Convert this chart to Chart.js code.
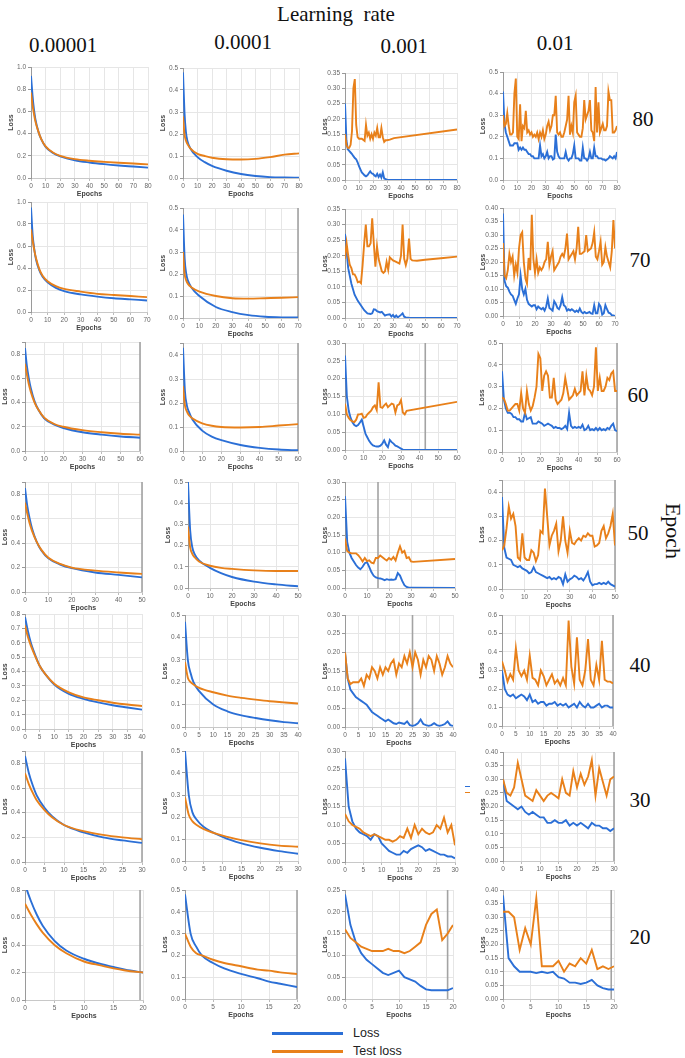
<!DOCTYPE html>
<html><head><meta charset="utf-8">
<script src="https://cdn.jsdelivr.net/npm/chart.js@4/dist/chart.umd.min.js"></script>
<style>
html,body{margin:0;padding:0;background:#fff;}
body{width:685px;height:1058px;position:relative;overflow:hidden;font-family:'Liberation Serif','Times New Roman',serif;}
.lbl{position:absolute;white-space:pre;color:#111;line-height:1;transform:translate(-50%,-50%);}
canvas{position:absolute;}
.lg{position:absolute;height:3px;}
.lgt{position:absolute;font-family:'Liberation Sans',Arial,sans-serif;font-size:12.5px;color:#222;transform:translateY(-50%);line-height:1;}
</style></head><body>
<div class="lbl" style="left:336px;top:14px;font-size:21px;">Learning  rate</div>
<div id="hdrs"></div>
<div id="charts"></div>
<div class="lbl" style="left:673px;top:531px;font-size:22px;transform:translate(-50%,-50%) rotate(90deg);">Epoch</div>
<div class="lg" style="left:272px;top:1032px;width:71px;background:#2b6fd6;"></div>
<div class="lgt" style="left:353px;top:1033px;">Loss</div>
<div class="lg" style="left:272px;top:1050px;width:71px;background:#e8801a;"></div>
<div class="lgt" style="left:353px;top:1051px;">Test loss</div>
<div style="position:absolute;left:465px;top:786px;width:5px;height:1px;background:#2b6fd6;"></div>
<div style="position:absolute;left:465px;top:792px;width:5px;height:1px;background:#e8801a;"></div>
<script>
// ---------------- DATA ----------------
const ROW_EPOCHS = [80, 70, 60, 50, 40, 30, 20];
const LR_LABELS = ['0.00001', '0.0001', '0.001', '0.01'];
const X_STEP = [10, 10, 10, 10, 5, 5, 5];
const Y_MAX = [[1.0,0.5,0.35,0.5],[1.0,0.5,0.35,0.4],[0.9,0.45,0.3,0.5],[0.9,0.5,0.3,0.45],[0.8,0.5,0.3,0.6],[0.9,0.5,0.3,0.4],[0.8,0.5,0.25,0.4]];
const Y_STEP = [[0.2,0.1,0.05,0.1],[0.2,0.1,0.05,0.05],[0.2,0.1,0.05,0.1],[0.2,0.1,0.05,0.1],[0.1,0.1,0.05,0.1],[0.2,0.1,0.05,0.05],[0.2,0.1,0.05,0.05]];
const CURSOR = [[null,null,null,null],[null,70,null,null],[60,60,43,60],[50,null,15,50],[null,null,25,40],[30,null,null,30],[19.5,20,19,19.5]];

// 80 epochs
const e80_lr5_loss = [[0,.92],[1,.75],[2,.62],[3,.53],[5,.42],[7,.35],[10,.28],[15,.225],[20,.195],[30,.16],[40,.14],[50,.125],[60,.113],[70,.103],[80,.093]];
const e80_lr5_test = [[0,.77],[1,.66],[2,.58],[3,.51],[5,.42],[7,.35],[10,.285],[15,.23],[20,.2],[30,.17],[40,.155],[50,.145],[60,.137],[70,.13],[80,.123]];
const e80_lr4_loss = [[0,.48],[1,.3],[2,.21],[3,.17],[5,.135],[10,.095],[15,.072],[20,.055],[30,.033],[40,.018],[50,.009],[60,.004],[70,.002],[80,.001]];
const e80_lr4_test = [[0,.28],[1,.2],[2,.17],[3,.155],[5,.135],[10,.11],[15,.1],[20,.092],[30,.085],[40,.084],[50,.087],[60,.095],[70,.106],[80,.112]];
const e80_lr3_loss = [[0,.25],[1,.13],[2,.1],[3,.095],[4,.09],[5,.085],[6,.078],[7,.072],[8,.068],[9,.058],[10,.045],[11,.035],[12,.025],[13,.02],[14,.015],[15,.012],[16,.015],[17,.022],[18,.028],[19,.022],[20,.02],[21,.015],[22,.012],[23,.02],[24,.01],[25,.018],[26,.008],[27,.025],[28,.005],[29,.003],[30,.001],[80,0]];
const e80_lr3_test = [[0,.15],[1,.115],[2,.105],[3,.105],[4,.115],[5,.16],[6,.3],[7,.33],[8,.18],[9,.14],[10,.135],[12,.135],[14,.128],[15,.18],[16,.145],[17,.155],[18,.135],[19,.15],[20,.135],[21,.155],[22,.145],[23,.17],[24,.14],[25,.14],[26,.17],[27,.14],[28,.125],[29,.13],[30,.13],[32,.132],[35,.137],[80,.165]];
const e80_lr2_loss = [.41,.26,.22,.20,.18,.16,.16,.16,.17,.17, .17,.14,.15,.14,.15,.14,.14,.13,.12,.12, .11,.11,.10,.10,.10,.10,.16,.11,.12,.10, .11,.13,.10,.11,.11,.095,.10,.21,.13,.11, .10,.10,.10,.10,.13,.10,.09,.10,.10,.12, .16,.10,.10,.10,.09,.09,.15,.10,.10,.09, .10,.13,.10,.10,.15,.11,.11,.10,.10,.10, .095,.095,.09,.095,.10,.11,.105,.10,.11,.10,.13];
const e80_lr2_test = [.30,.25,.26,.31,.25,.21,.21,.22,.40,.47, .20,.19,.35,.18,.25,.24,.32,.22,.23,.21, .22,.20,.21,.20,.22,.19,.22,.20,.23,.19, .21,.25,.27,.23,.25,.30,.30,.39,.22,.21, .22,.20,.20,.22,.25,.28,.39,.21,.25,.22, .36,.39,.22,.21,.20,.20,.24,.37,.28,.30, .32,.37,.23,.22,.18,.43,.22,.36,.22,.24, .26,.23,.23,.25,.41,.37,.37,.22,.22,.23,.25];

// 70 epochs
const e70_lr5_loss = [[0,.95],[1,.7],[2,.57],[3,.48],[5,.38],[7,.32],[10,.27],[15,.22],[20,.19],[30,.16],[40,.14],[50,.125],[60,.115],[70,.105]];
const e70_lr5_test = [[0,.75],[1,.65],[2,.56],[3,.49],[5,.39],[7,.33],[10,.28],[15,.235],[20,.21],[30,.185],[40,.165],[50,.155],[60,.145],[70,.135]];
const e70_lr4_loss = [[0,.47],[1,.27],[2,.2],[3,.17],[5,.14],[10,.1],[20,.05],[30,.027],[40,.013],[50,.006],[60,.003],[70,.002]];
const e70_lr4_test = [[0,.3],[1,.2],[2,.17],[3,.155],[5,.14],[10,.12],[20,.1],[30,.09],[40,.088],[50,.09],[60,.092],[70,.095]];
const e70_lr3_loss = [[0,.27],[2,.16],[4,.11],[6,.075],[8,.055],[10,.04],[12,.025],[14,.015],[16,.013],[17,.015],[18,.028],[19,.027],[20,.022],[22,.018],[23,.02],[25,.008],[26,.01],[28,.012],[29,.005],[30,.01],[31,.002],[32,.008],[33,.002],[35,.01],[36,.015],[37,.004],[38,.002],[40,.001],[70,0]];
const e70_lr3_test = [[0,.19],[1,.24],[2,.2],[3,.17],[4,.16],[5,.14],[6,.14],[7,.13],[8,.115],[9,.117],[10,.112],[11,.17],[12,.24],[13,.3],[14,.23],[15,.23],[16,.24],[17,.32],[18,.24],[19,.165],[20,.23],[21,.19],[22,.17],[23,.15],[24,.145],[25,.15],[26,.18],[27,.155],[28,.195],[29,.19],[30,.185],[32,.18],[34,.175],[35,.2],[36,.3],[37,.19],[38,.17],[39,.19],[40,.255],[41,.19],[42,.185],[45,.184],[50,.187],[60,.192],[70,.197]];
const e70_lr2_loss = [.38,.13,.11,.105,.09,.08,.075,.06,.045,.065, .08,.15,.10,.08,.10,.06,.045,.04,.035,.04, .04,.025,.035,.03,.025,.03,.02,.035,.065,.03, .025,.02,.055,.045,.03,.025,.04,.07,.04,.035, .02,.025,.02,.025,.02,.015,.02,.015,.028,.015, .01,.015,.01,.012,.015,.01,.008,.04,.01,.01, .045,.035,.005,.01,.04,.025,.012,.01,.003,.002,0];
const e70_lr2_test = [.27,.15,.14,.17,.23,.20,.22,.15,.19,.16, .25,.30,.31,.20,.14,.12,.215,.17,.375,.21, .16,.21,.16,.18,.17,.18,.20,.21,.275,.19, .22,.24,.17,.18,.19,.20,.22,.23,.22,.25, .305,.21,.22,.23,.24,.21,.25,.33,.23,.23, .235,.24,.30,.24,.245,.25,.27,.31,.22,.21, .24,.275,.19,.20,.255,.22,.20,.18,.24,.355,.25];

// 60 epochs
const e60_lr5_loss = [[0,.85],[1,.7],[2,.6],[3,.52],[5,.41],[7,.34],[10,.27],[15,.22],[20,.19],[30,.155],[40,.135],[50,.12],[60,.11]];
const e60_lr5_test = [[0,.72],[1,.63],[2,.55],[3,.49],[5,.4],[7,.34],[10,.275],[15,.225],[20,.2],[30,.172],[40,.155],[50,.143],[60,.135]];
const e60_lr4_loss = [[0,.43],[1,.25],[2,.19],[3,.165],[5,.13],[10,.085],[15,.06],[20,.045],[30,.025],[40,.013],[50,.006],[60,.003]];
const e60_lr4_test = [[0,.27],[1,.19],[2,.165],[3,.15],[5,.135],[10,.115],[15,.105],[20,.1],[30,.098],[40,.1],[50,.106],[60,.112]];
const e60_lr3_loss = [[0,.265],[1,.15],[2,.11],[3,.09],[4,.078],[5,.07],[6,.067],[7,.07],[8,.077],[9,.085],[10,.065],[11,.045],[12,.035],[13,.025],[14,.018],[15,.013],[16,.011],[17,.01],[18,.01],[19,.012],[20,.018],[21,.027],[22,.015],[23,.008],[24,.028],[25,.022],[26,.018],[27,.012],[28,.01],[29,.007],[30,.004],[31,.001],[60,0]];
const e60_lr3_test = [[0,.13],[1,.1],[2,.09],[3,.083],[4,.08],[5,.078],[6,.085],[7,.1],[8,.1],[9,.102],[10,.09],[11,.092],[12,.1],[13,.105],[14,.11],[15,.12],[16,.125],[17,.112],[18,.19],[19,.12],[20,.118],[21,.125],[22,.13],[23,.12],[24,.125],[25,.13],[26,.128],[27,.105],[28,.125],[29,.128],[30,.14],[31,.105],[32,.1],[33,.11],[60,.135]];
const e60_lr2_loss = [.37,.24,.20,.18,.18,.175,.16,.16,.15,.15, .14,.14,.18,.15,.155,.16,.13,.13,.13,.14, .135,.13,.12,.125,.13,.125,.12,.11,.115,.11, .11,.105,.11,.12,.105,.18,.12,.11,.115,.11, .115,.11,.125,.10,.105,.12,.10,.105,.10,.11, .10,.11,.10,.105,.10,.11,.105,.12,.13,.10,.095];
const e60_lr2_test = [.25,.245,.22,.19,.19,.20,.21,.22,.22,.19, .27,.20,.18,.28,.22,.19,.21,.25,.30,.45, .43,.28,.35,.37,.35,.25,.25,.34,.24,.22, .23,.24,.27,.34,.29,.24,.25,.26,.29,.26, .27,.28,.37,.26,.35,.29,.28,.26,.30,.48, .28,.34,.28,.28,.30,.34,.33,.36,.37,.28,.28];

// 50 epochs
const e50_lr5_loss = [[0,.85],[1,.7],[2,.6],[3,.52],[5,.41],[7,.34],[10,.275],[15,.225],[20,.195],[30,.16],[40,.14],[50,.12]];
const e50_lr5_test = [[0,.73],[1,.64],[2,.56],[3,.5],[5,.41],[7,.345],[10,.28],[15,.23],[20,.2],[30,.175],[40,.16],[50,.148]];
const e50_lr4_loss = [[0,.5],[1,.27],[2,.19],[3,.16],[5,.13],[10,.095],[15,.07],[20,.052],[30,.03],[40,.017],[50,.008]];
const e50_lr4_test = [[0,.29],[1,.19],[2,.16],[3,.145],[5,.125],[10,.105],[15,.095],[20,.09],[30,.083],[40,.08],[50,.08]];
const e50_lr3_loss = [[0,.26],[1,.13],[2,.1],[3,.085],[4,.075],[5,.065],[6,.058],[7,.053],[8,.06],[9,.07],[10,.073],[11,.06],[12,.045],[13,.035],[14,.03],[15,.028],[16,.027],[17,.025],[18,.022],[19,.025],[20,.023],[21,.024],[22,.023],[23,.025],[24,.042],[25,.035],[26,.02],[27,.008],[28,.003],[29,.001],[30,.001],[50,0]];
const e50_lr3_test = [[0,.14],[1,.105],[2,.1],[3,.098],[4,.098],[5,.098],[6,.093],[7,.085],[8,.075],[9,.085],[10,.076],[11,.078],[12,.072],[13,.07],[14,.085],[15,.085],[16,.092],[17,.087],[18,.082],[19,.078],[20,.085],[21,.08],[22,.088],[23,.078],[24,.1],[25,.118],[26,.1],[27,.105],[28,.085],[29,.087],[30,.075],[31,.074],[50,.082]];
const e50_lr2_loss = [.38,.17,.13,.125,.12,.10,.095,.09,.095,.085, .08,.075,.065,.07,.09,.07,.065,.06,.055,.05, .045,.05,.04,.045,.04,.05,.045,.02,.06,.03, .04,.045,.055,.05,.04,.045,.035,.05,.07,.03, .015,.02,.02,.025,.02,.025,.02,.03,.02,.015,.01];
const e50_lr2_test = [.16,.18,.25,.34,.29,.31,.26,.13,.12,.23, .13,.12,.12,.16,.15,.115,.14,.24,.23,.415, .30,.18,.22,.24,.27,.155,.20,.30,.20,.15, .24,.19,.185,.20,.21,.20,.22,.215,.23,.22, .22,.175,.18,.19,.24,.26,.21,.23,.26,.31,.18];

// 40 epochs
const e40_lr5_loss = [[0,.78],[1,.68],[2,.6],[3,.54],[5,.44],[7,.38],[10,.31],[15,.245],[20,.21],[25,.185],[30,.165],[35,.15],[40,.135]];
const e40_lr5_test = [[0,.72],[1,.64],[2,.58],[3,.53],[5,.44],[7,.38],[10,.315],[15,.255],[20,.22],[25,.2],[30,.183],[35,.17],[40,.16]];
const e40_lr4_loss = [[0,.47],[1,.3],[2,.24],[3,.2],[5,.16],[10,.1],[15,.07],[20,.052],[25,.04],[30,.03],[35,.022],[40,.017]];
const e40_lr4_test = [[0,.29],[1,.22],[2,.2],[3,.19],[5,.175],[10,.155],[15,.14],[20,.13],[25,.122],[30,.115],[35,.11],[40,.105]];
const e40_lr3_loss = [.20,.13,.10,.09,.08,.075,.07,.065,.06,.05, .04,.035,.03,.025,.02,.015,.02,.015,.01,.008, .012,.01,.008,.015,.005,.003,.005,.01,.02,.008, .005,.003,.005,.01,.005,.003,.005,.008,.015,.005,.003];
const e40_lr3_test = [.20,.13,.115,.12,.12,.12,.13,.11,.14,.13, .16,.15,.13,.16,.14,.16,.15,.17,.18,.14, .17,.16,.19,.17,.20,.16,.20,.18,.14,.18, .16,.19,.18,.15,.19,.17,.14,.16,.19,.17,.16];
const e40_lr2_loss = [.30,.20,.17,.16,.17,.15,.16,.17,.16,.14, .17,.13,.14,.12,.13,.13,.11,.12,.12,.13, .11,.12,.11,.12,.10,.11,.12,.10,.13,.11, .10,.12,.10,.10,.11,.12,.10,.11,.11,.10,.10];
const e40_lr2_test = [.35,.30,.24,.28,.25,.42,.30,.27,.30,.25, .38,.26,.25,.22,.30,.27,.22,.25,.28,.23, .25,.22,.26,.22,.57,.32,.23,.48,.25,.22, .30,.47,.25,.22,.33,.25,.46,.25,.24,.24,.23];

// 30 epochs
const e30_lr5_loss = [[0,.86],[1,.72],[2,.62],[3,.54],[5,.44],[7,.37],[10,.3],[15,.24],[20,.2],[25,.175],[30,.155]];
const e30_lr5_test = [[0,.72],[1,.63],[2,.56],[3,.5],[5,.42],[7,.36],[10,.3],[15,.25],[20,.22],[25,.2],[30,.185]];
const e30_lr4_loss = [[0,.5],[1,.3],[2,.22],[3,.19],[5,.155],[10,.11],[15,.08],[20,.06],[25,.045],[30,.033]];
const e30_lr4_test = [[0,.29],[1,.21],[2,.18],[3,.165],[5,.145],[10,.115],[15,.095],[20,.08],[25,.07],[30,.065]];
const e30_lr3_loss = [.28,.15,.11,.09,.08,.075,.07,.06,.075,.07, .05,.04,.03,.025,.02,.02,.03,.025,.035,.04, .045,.04,.03,.035,.03,.025,.02,.02,.015,.015,.01];
const e30_lr3_test = [.13,.11,.10,.095,.09,.08,.075,.07,.075,.07, .065,.06,.06,.055,.06,.07,.065,.09,.065,.10, .075,.09,.08,.075,.08,.10,.09,.12,.08,.10,.045];
const e30_lr2_loss = [.30,.22,.21,.20,.19,.20,.18,.17,.18,.17, .16,.16,.14,.14,.15,.14,.14,.15,.13,.14, .13,.14,.13,.12,.14,.13,.13,.12,.12,.11,.12];
const e30_lr2_test = [.30,.25,.24,.27,.36,.30,.24,.23,.22,.26, .24,.22,.24,.25,.24,.23,.30,.25,.24,.33, .27,.32,.28,.31,.37,.24,.34,.29,.24,.30,.31];

// 20 epochs
const e20_lr5_loss = [[0,.84],[1,.72],[2,.62],[3,.54],[5,.43],[7,.36],[10,.3],[13,.26],[15,.24],[17,.22],[20,.2]];
const e20_lr5_test = [[0,.7],[1,.62],[2,.55],[3,.49],[5,.4],[7,.34],[10,.28],[13,.25],[15,.23],[17,.215],[20,.2]];
const e20_lr4_loss = [[0,.48],[1,.3],[2,.24],[3,.2],[5,.165],[7,.14],[10,.115],[13,.095],[15,.08],[17,.07],[20,.055]];
const e20_lr4_test = [[0,.3],[1,.24],[2,.21],[3,.2],[5,.18],[7,.165],[10,.15],[13,.135],[15,.13],[17,.122],[20,.115]];
const e20_lr3_loss = [.24,.17,.13,.105,.09,.08,.07,.06,.055,.06, .065,.05,.045,.04,.03,.022,.02,.02,.02,.02,.025];
const e20_lr3_test = [.16,.14,.13,.12,.115,.11,.11,.11,.115,.11, .11,.105,.11,.12,.13,.17,.195,.205,.135,.15,.17];
const e20_lr2_loss = [.38,.15,.12,.10,.10,.10,.095,.10,.095,.10, .08,.075,.06,.06,.055,.06,.07,.05,.04,.035,.035];
const e20_lr2_test = [.32,.32,.30,.18,.26,.20,.37,.12,.12,.12, .14,.10,.13,.12,.15,.13,.18,.11,.12,.11,.12];

const SERIES = [
  [[e80_lr5_loss,e80_lr5_test],[e80_lr4_loss,e80_lr4_test],[e80_lr3_loss,e80_lr3_test],[e80_lr2_loss,e80_lr2_test]],
  [[e70_lr5_loss,e70_lr5_test],[e70_lr4_loss,e70_lr4_test],[e70_lr3_loss,e70_lr3_test],[e70_lr2_loss,e70_lr2_test]],
  [[e60_lr5_loss,e60_lr5_test],[e60_lr4_loss,e60_lr4_test],[e60_lr3_loss,e60_lr3_test],[e60_lr2_loss,e60_lr2_test]],
  [[e50_lr5_loss,e50_lr5_test],[e50_lr4_loss,e50_lr4_test],[e50_lr3_loss,e50_lr3_test],[e50_lr2_loss,e50_lr2_test]],
  [[e40_lr5_loss,e40_lr5_test],[e40_lr4_loss,e40_lr4_test],[e40_lr3_loss,e40_lr3_test],[e40_lr2_loss,e40_lr2_test]],
  [[e30_lr5_loss,e30_lr5_test],[e30_lr4_loss,e30_lr4_test],[e30_lr3_loss,e30_lr3_test],[e30_lr2_loss,e30_lr2_test]],
  [[e20_lr5_loss,e20_lr5_test],[e20_lr4_loss,e20_lr4_test],[e20_lr3_loss,e20_lr3_test],[e20_lr2_loss,e20_lr2_test]]
];

// ---------------- LAYOUT ----------------
const PLOT_X = [
  [[31,148],[183,299],[345,457],[503,617]],
  [[31,147],[183,298],[345,457],[503,615]],
  [[25,140],[183,298],[345,457],[502,617]],
  [[25,142],[188,298],[345,455],[502,615]],
  [[25,142],[185,298],[345,453],[502,613]],
  [[25,142],[185,298],[345,455],[503,614]],
  [[25,143],[185,297],[345,453],[503,614]]
];
const PLOT_Y = [
  [[67,178],[68,178],[73,180],[72,180]],
  [[202,312],[208,318],[209,318],[208,316]],
  [[342,451],[343,451],[343,450],[343,452]],
  [[482,592],[482,588],[482,588],[480,589]],
  [[614,729],[615,727],[615,727],[615,726]],
  [[751,862],[751,861],[751,862],[752,861]],
  [[890,1000],[890,999],[890,999],[890,999]]
];
const HDR_POS = [[63,45],[243,42],[404,46],[555,43]];
const ROWLBL_POS = [[643,119],[640,260],[638,395],[638,533],[640,665],[640,800],[640,937]];

const BLUE = '#2b6fd6', ORANGE = '#e8801a';
const PT = 6, XH = 20, YW = 24, PR = 8;

Chart.defaults.font.family = "Arial, 'Liberation Sans', sans-serif";

// headers
const hdrs = document.getElementById('hdrs');
LR_LABELS.forEach((t,i)=>{
  const d=document.createElement('div'); d.className='lbl'; d.style.fontSize='21px';
  d.style.left=HDR_POS[i][0]+'px'; d.style.top=HDR_POS[i][1]+'px'; d.textContent=t; hdrs.appendChild(d);
});
ROW_EPOCHS.forEach((t,i)=>{
  const d=document.createElement('div'); d.className='lbl'; d.style.fontSize='21px';
  d.style.left=ROWLBL_POS[i][0]+'px'; d.style.top=ROWLBL_POS[i][1]+'px'; d.textContent=String(t); hdrs.appendChild(d);
});

function toPts(arr){ return arr.map((v,i)=> Array.isArray(v) ? {x:v[0], y:v[1]} : {x:i, y:v}); }
function gridTicks(max, step){
  const t=[]; const n=Math.floor(max/step+1e-9);
  for(let k=0;k<=n;k++) t.push({value:+(k*step).toFixed(4)});
  if (Math.abs(n*step-max)>1e-9) t.push({value:max});
  return t;
}
function isMult(v, step){ const r=v/step; return Math.abs(r-Math.round(r))<1e-6; }

const cursorPlugin = {
  id:'cursorLine',
  beforeDatasetsDraw(chart, args, opts){
    if (opts.x==null) return;
    const {ctx, chartArea, scales} = chart;
    const px = scales.x.getPixelForValue(opts.x);
    ctx.save(); ctx.strokeStyle='#a3a3a3'; ctx.lineWidth=1.6;
    ctx.beginPath(); ctx.moveTo(px, chartArea.top); ctx.lineTo(px, chartArea.bottom); ctx.stroke(); ctx.restore();
  }
};

const host = document.getElementById('charts');
for (let r=0;r<7;r++){
  for (let c=0;c<4;c++){
    const [L,R]=PLOT_X[r][c], [T,B]=PLOT_Y[r][c];
    const cv=document.createElement('canvas');
    const w=(R-L)+YW+PR, h=(B-T)+PT+XH;
    cv.width=w; cv.height=h; cv.style.width=w+'px'; cv.style.height=h+'px';
    cv.style.left=(L-YW)+'px'; cv.style.top=(T-PT)+'px';
    host.appendChild(cv);
    const N=ROW_EPOCHS[r], xs=X_STEP[r], ym=Y_MAX[r][c], ys=Y_STEP[r][c];
    const dec = ys<0.1 ? 2 : 1;
    const smooth = c<2;
    const [lossArr, testArr] = SERIES[r][c];
    const ds = (data,color)=>({data:toPts(data), borderColor:color, backgroundColor:color, borderWidth:1.9, pointRadius:0,
      tension: 0, cubicInterpolationMode: smooth?'monotone':'default', fill:false});
    new Chart(cv, {
      type:'line',
      data:{datasets:[Object.assign(ds(testArr,ORANGE),{label:'Test loss'}), Object.assign(ds(lossArr,BLUE),{label:'Loss'})]},
      plugins:[cursorPlugin],
      options:{
        responsive:false, animation:false, devicePixelRatio:1,
        layout:{padding:{top:PT,right:PR,left:0,bottom:0}},
        plugins:{legend:{display:false}, tooltip:{enabled:false}, cursorLine:{x:CURSOR[r][c]}},
        scales:{
          x:{type:'linear', min:0, max:N,
            afterBuildTicks:s=>{ s.ticks = gridTicks(N, xs); },
            afterFit:s=>{ s.height = XH; },
            grid:{color:'#e6e6e6', tickLength:3, tickColor:'#bbb', lineWidth:1},
            border:{color:'#c8c8c8'},
            ticks:{font:{size:6.5}, color:'#666', maxRotation:0, minRotation:0, autoSkip:false, padding:1,
              callback:v=>String(Math.round(v))},
            title:{display:true, text:'Epochs', font:{size:7, weight:'bold'}, color:'#444', padding:0}
          },
          y:{type:'linear', min:0, max:ym,
            afterBuildTicks:s=>{ s.ticks = gridTicks(ym, ys); },
            afterFit:s=>{ s.width = YW; },
            grid:{color:'#e6e6e6', tickLength:3, tickColor:'#999', lineWidth:1},
            border:{color:'#9a9a9a'},
            ticks:{font:{size:6.5}, color:'#666', autoSkip:false, padding:2,
              callback:v=> isMult(v, ys) ? Number(v).toFixed(dec) : ''},
            title:{display:true, text:'Loss', font:{size:7, weight:'bold'}, color:'#444', padding:0}
          }
        }
      }
    });
  }
}
</script>
</body></html>
